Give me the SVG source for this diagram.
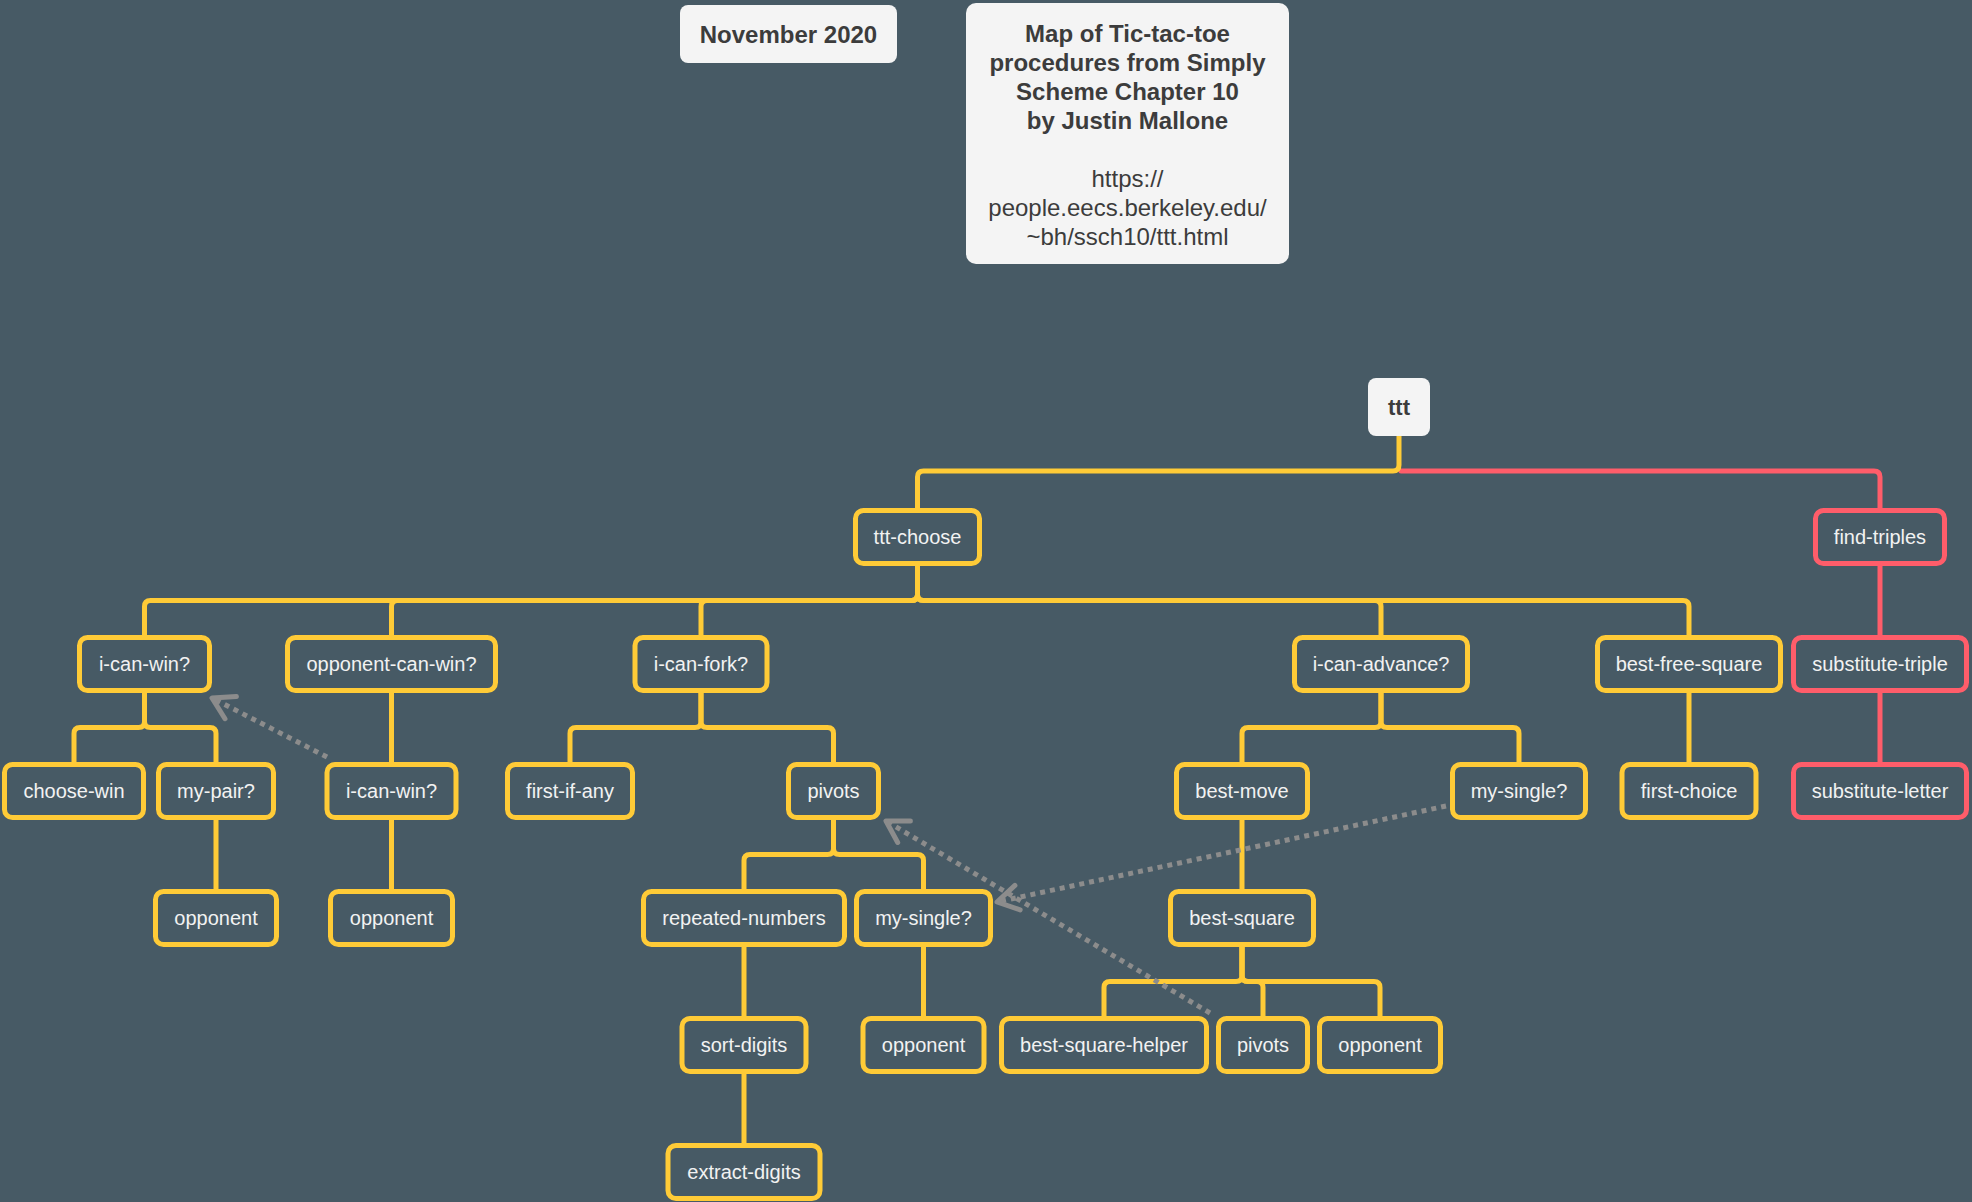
<svg xmlns="http://www.w3.org/2000/svg" width="1972" height="1202" viewBox="0 0 1972 1202">
<style>
.bg{fill:#475a65}
.card{fill:#f4f4f4}
.ct{font-family:"Liberation Sans",Arial,sans-serif;font-size:24px;fill:#3c3c3c;text-anchor:middle}
.b{font-weight:bold}
.n rect{fill:#475a65;stroke:#ffcb37;stroke-width:5}
.n.r rect{stroke:#ff5d6a}
.n text{font-family:"Liberation Sans",Arial,sans-serif;font-size:20px;fill:#f2f2f2;text-anchor:middle}
.y{fill:none;stroke:#ffcb37;stroke-width:5;stroke-linecap:round}
.rd{fill:none;stroke:#ff5d6a;stroke-width:5;stroke-linecap:round}
.dep{fill:none;stroke:#8c8c8c;stroke-width:5;stroke-dasharray:5 5;marker-end:url(#arr)}
</style>
<defs>
<marker id="arr" markerUnits="userSpaceOnUse" orient="auto" markerWidth="40" markerHeight="40" viewBox="-30 -20 40 40" refX="0" refY="0" overflow="visible">
<path d="M-21,-12.5 L0,0 L-21,12.5" fill="none" stroke="#8c8c8c" stroke-width="5" stroke-linecap="round" stroke-linejoin="round"/>
</marker>
</defs>
<rect class="bg" x="0" y="0" width="1972" height="1202"/>

<g id="note-date">
<rect class="card" x="680" y="5" width="217" height="58" rx="8"/>
<text class="ct b" x="788.5" y="43">November 2020</text>
</g>
<g id="note-title">
<rect class="card" x="966" y="3" width="323" height="261" rx="10"/>
<text class="ct b" x="1127.5" y="42">Map of Tic-tac-toe</text>
<text class="ct b" x="1127.5" y="71">procedures from Simply</text>
<text class="ct b" x="1127.5" y="100">Scheme Chapter 10</text>
<text class="ct b" x="1127.5" y="129">by Justin Mallone</text>
<text class="ct" x="1127.5" y="187">https://</text>
<text class="ct" x="1127.5" y="216">people.eecs.berkeley.edu/</text>
<text class="ct" x="1127.5" y="245">~bh/ssch10/ttt.html</text>
</g>

<g id="connectors">
<path class="rd" d="M1401,471 H1874 Q1880,471 1880,477 V510.5"/>
<path class="y" d="M1399,436 V465 Q1399,471 1393,471 H923.5 Q917.5,471 917.5,477 V510.5"/>
<path class="rd" d="M1880,563.5 V637.5"/>
<path class="rd" d="M1880,690.5 V764.5"/>

<path class="y" d="M917.5,563.5 V594.5 Q917.5,600.5 911.5,600.5 H150.5 Q144.5,600.5 144.5,606.5 V637.5"/>
<path class="y" d="M917.5,563.5 V594.5 Q917.5,600.5 911.5,600.5 H397.5 Q391.5,600.5 391.5,606.5 V637.5"/>
<path class="y" d="M917.5,563.5 V594.5 Q917.5,600.5 911.5,600.5 H707 Q701,600.5 701,606.5 V637.5"/>
<path class="y" d="M917.5,563.5 V594.5 Q917.5,600.5 923.5,600.5 H1375 Q1381,600.5 1381,606.5 V637.5"/>
<path class="y" d="M917.5,563.5 V594.5 Q917.5,600.5 923.5,600.5 H1683 Q1689,600.5 1689,606.5 V637.5"/>

<path class="y" d="M144.5,690.5 V721.5 Q144.5,727.5 138.5,727.5 H80 Q74,727.5 74,733.5 V764.5"/>
<path class="y" d="M144.5,690.5 V721.5 Q144.5,727.5 150.5,727.5 H210 Q216,727.5 216,733.5 V764.5"/>
<path class="y" d="M391.5,690.5 V764.5"/>
<path class="y" d="M701,690.5 V721.5 Q701,727.5 695,727.5 H576 Q570,727.5 570,733.5 V764.5"/>
<path class="y" d="M701,690.5 V721.5 Q701,727.5 707,727.5 H827.5 Q833.5,727.5 833.5,733.5 V764.5"/>
<path class="y" d="M1381,690.5 V721.5 Q1381,727.5 1375,727.5 H1248 Q1242,727.5 1242,733.5 V764.5"/>
<path class="y" d="M1381,690.5 V721.5 Q1381,727.5 1387,727.5 H1513 Q1519,727.5 1519,733.5 V764.5"/>
<path class="y" d="M1689,690.5 V764.5"/>

<path class="y" d="M216,817.5 V891.5"/>
<path class="y" d="M391.5,817.5 V891.5"/>
<path class="y" d="M833.5,817.5 V848.5 Q833.5,854.5 827.5,854.5 H750 Q744,854.5 744,860.5 V891.5"/>
<path class="y" d="M833.5,817.5 V848.5 Q833.5,854.5 839.5,854.5 H917.5 Q923.5,854.5 923.5,860.5 V891.5"/>
<path class="y" d="M1242,817.5 V891.5"/>

<path class="y" d="M744,944.5 V1018.5"/>
<path class="y" d="M923.5,944.5 V1018.5"/>
<path class="y" d="M1242,944.5 V975.5 Q1242,981.5 1236,981.5 H1110 Q1104,981.5 1104,987.5 V1018.5"/>
<path class="y" d="M1242,944.5 V975.5 Q1242,981.5 1248,981.5 H1257 Q1263,981.5 1263,987.5 V1018.5"/>
<path class="y" d="M1242,944.5 V975.5 Q1242,981.5 1248,981.5 H1374 Q1380,981.5 1380,987.5 V1018.5"/>

<path class="y" d="M744,1071.5 V1145.5"/>

<path class="dep" d="M327,757 L212,698"/>
<path class="dep" d="M1446,806 L997,902"/>
<path class="dep" d="M1210,1013 L886,821"/>
</g>

<g id="node-ttt">
<rect class="card" x="1368" y="378" width="62" height="58" rx="8"/>
<text class="ct b" x="1399" y="415" style="font-size:22px">ttt</text>
</g>

<g id="node-ttt-choose" class="n"><rect x="855.5" y="510.5" width="124" height="53" rx="8"/><text x="917.5" y="544">ttt-choose</text></g>
<g id="node-find-triples" class="n r"><rect x="1815.5" y="510.5" width="129" height="53" rx="8"/><text x="1880" y="544">find-triples</text></g>

<g id="node-i-can-win" class="n"><rect x="79.5" y="637.5" width="130" height="53" rx="8"/><text x="144.5" y="671">i-can-win?</text></g>
<g id="node-opponent-can-win" class="n"><rect x="287.5" y="637.5" width="208" height="53" rx="8"/><text x="391.5" y="671">opponent-can-win?</text></g>
<g id="node-i-can-fork" class="n"><rect x="635" y="637.5" width="132" height="53" rx="8"/><text x="701" y="671">i-can-fork?</text></g>
<g id="node-i-can-advance" class="n"><rect x="1294.5" y="637.5" width="173" height="53" rx="8"/><text x="1381" y="671">i-can-advance?</text></g>
<g id="node-best-free-square" class="n"><rect x="1597.5" y="637.5" width="183" height="53" rx="8"/><text x="1689" y="671">best-free-square</text></g>
<g id="node-substitute-triple" class="n r"><rect x="1793.5" y="637.5" width="173" height="53" rx="8"/><text x="1880" y="671">substitute-triple</text></g>

<g id="node-choose-win" class="n"><rect x="4.5" y="764.5" width="139" height="53" rx="8"/><text x="74" y="798">choose-win</text></g>
<g id="node-my-pair" class="n"><rect x="158.5" y="764.5" width="115" height="53" rx="8"/><text x="216" y="798">my-pair?</text></g>
<g id="node-i-can-win-2" class="n"><rect x="327" y="764.5" width="129" height="53" rx="8"/><text x="391.5" y="798">i-can-win?</text></g>
<g id="node-first-if-any" class="n"><rect x="507.5" y="764.5" width="125" height="53" rx="8"/><text x="570" y="798">first-if-any</text></g>
<g id="node-pivots" class="n"><rect x="788.5" y="764.5" width="90" height="53" rx="8"/><text x="833.5" y="798">pivots</text></g>
<g id="node-best-move" class="n"><rect x="1176.5" y="764.5" width="131" height="53" rx="8"/><text x="1242" y="798">best-move</text></g>
<g id="node-my-single" class="n"><rect x="1452.5" y="764.5" width="133" height="53" rx="8"/><text x="1519" y="798">my-single?</text></g>
<g id="node-first-choice" class="n"><rect x="1622" y="764.5" width="134" height="53" rx="8"/><text x="1689" y="798">first-choice</text></g>
<g id="node-substitute-letter" class="n r"><rect x="1793.5" y="764.5" width="173" height="53" rx="8"/><text x="1880" y="798">substitute-letter</text></g>

<g id="node-opponent-1" class="n"><rect x="155.5" y="891.5" width="121" height="53" rx="8"/><text x="216" y="925">opponent</text></g>
<g id="node-opponent-2" class="n"><rect x="330.5" y="891.5" width="122" height="53" rx="8"/><text x="391.5" y="925">opponent</text></g>
<g id="node-repeated-numbers" class="n"><rect x="643.5" y="891.5" width="201" height="53" rx="8"/><text x="744" y="925">repeated-numbers</text></g>
<g id="node-my-single-2" class="n"><rect x="856.5" y="891.5" width="134" height="53" rx="8"/><text x="923.5" y="925">my-single?</text></g>
<g id="node-best-square" class="n"><rect x="1170.5" y="891.5" width="143" height="53" rx="8"/><text x="1242" y="925">best-square</text></g>

<g id="node-sort-digits" class="n"><rect x="682" y="1018.5" width="124" height="53" rx="8"/><text x="744" y="1052">sort-digits</text></g>
<g id="node-opponent-3" class="n"><rect x="863" y="1018.5" width="121" height="53" rx="8"/><text x="923.5" y="1052">opponent</text></g>
<g id="node-best-square-helper" class="n"><rect x="1001.5" y="1018.5" width="205" height="53" rx="8"/><text x="1104" y="1052">best-square-helper</text></g>
<g id="node-pivots-2" class="n"><rect x="1218.5" y="1018.5" width="89" height="53" rx="8"/><text x="1263" y="1052">pivots</text></g>
<g id="node-opponent-4" class="n"><rect x="1319.5" y="1018.5" width="121" height="53" rx="8"/><text x="1380" y="1052">opponent</text></g>

<g id="node-extract-digits" class="n"><rect x="668" y="1145.5" width="152" height="53" rx="8"/><text x="744" y="1179">extract-digits</text></g>
</svg>
